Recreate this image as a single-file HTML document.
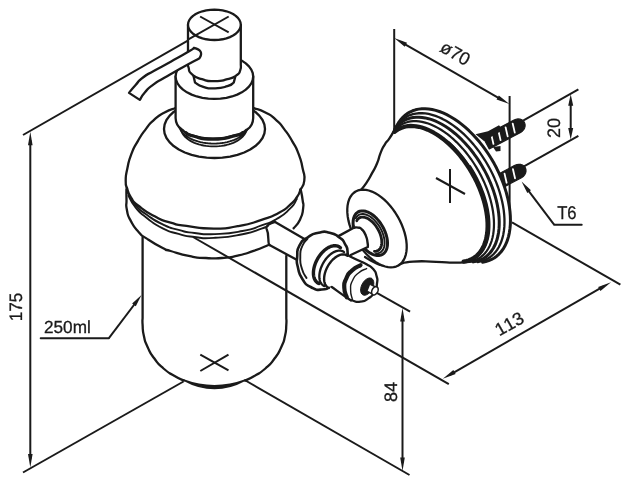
<!DOCTYPE html>
<html><head><meta charset="utf-8"><title>Soap dispenser drawing</title>
<style>html,body{margin:0;padding:0;background:#fff;}svg{display:block;filter:grayscale(1) blur(0.3px);text-rendering:geometricPrecision;font-variant-ligatures:none;font-kerning:none;font-feature-settings:'liga' 0,'calt' 0,'kern' 0;font-family:"Liberation Sans",sans-serif;}</style></head>
<body>
<svg width="629" height="484" viewBox="0 0 629 484" font-family="Liberation Sans, sans-serif" fill="#1a1a1a">
<line x1="23.00" y1="135.00" x2="190.00" y2="39.40" stroke="#1a1a1a" stroke-width="2.0" stroke-linecap="butt"/>
<line x1="23.00" y1="472.50" x2="183.50" y2="381.50" stroke="#1a1a1a" stroke-width="2.0" stroke-linecap="butt"/>
<line x1="245.50" y1="380.50" x2="409.50" y2="475.00" stroke="#1a1a1a" stroke-width="2.0" stroke-linecap="butt"/>
<line x1="30.30" y1="139.90" x2="30.30" y2="459.30" stroke="#1a1a1a" stroke-width="2.0" stroke-linecap="butt"/>
<path d="M30.30 467.40 L28.00 453.90 L32.60 453.90 Z" fill="#1a1a1a"/>
<path d="M30.30 131.80 L32.60 145.30 L28.00 145.30 Z" fill="#1a1a1a"/>
<text transform="translate(21.50 307.00) rotate(-90) scale(0.95 1)" x="0" y="0" font-size="18" text-anchor="middle" fill="#1a1a1a" stroke="#1a1a1a" stroke-width="0.3" font-family="Liberation Sans, sans-serif">175</text>
<line x1="402.50" y1="316.10" x2="402.50" y2="462.90" stroke="#1a1a1a" stroke-width="2.0" stroke-linecap="butt"/>
<path d="M402.50 471.00 L400.20 457.50 L404.80 457.50 Z" fill="#1a1a1a"/>
<path d="M402.50 308.00 L404.80 321.50 L400.20 321.50 Z" fill="#1a1a1a"/>
<text transform="translate(396.70 392.00) rotate(-90)" x="0" y="0" font-size="18" text-anchor="middle" fill="#1a1a1a" stroke="#1a1a1a" stroke-width="0.3" font-family="Liberation Sans, sans-serif">84</text>
<line x1="376.40" y1="292.70" x2="410.10" y2="311.60" stroke="#1a1a1a" stroke-width="2.0" stroke-linecap="butt"/>
<line x1="193.00" y1="237.00" x2="448.80" y2="384.10" stroke="#1a1a1a" stroke-width="2.0" stroke-linecap="butt"/>
<line x1="512.00" y1="222.40" x2="620.40" y2="284.70" stroke="#1a1a1a" stroke-width="2.0" stroke-linecap="butt"/>
<line x1="449.82" y1="374.77" x2="603.98" y2="286.23" stroke="#1a1a1a" stroke-width="2.0" stroke-linecap="butt"/>
<path d="M611.00 282.20 L600.44 290.92 L598.15 286.93 Z" fill="#1a1a1a"/>
<path d="M442.80 378.80 L453.36 370.08 L455.65 374.07 Z" fill="#1a1a1a"/>
<text transform="translate(512.30 329.20) rotate(-29.6)" x="0" y="0" font-size="18" text-anchor="middle" fill="#1a1a1a" stroke="#1a1a1a" stroke-width="0.3" font-family="Liberation Sans, sans-serif">113</text>
<line x1="394.20" y1="29.00" x2="394.20" y2="130.00" stroke="#1a1a1a" stroke-width="2.0" stroke-linecap="butt"/>
<line x1="401.23" y1="42.03" x2="502.37" y2="100.07" stroke="#1a1a1a" stroke-width="2.0" stroke-linecap="butt"/>
<path d="M509.40 104.10 L496.55 99.38 L498.84 95.39 Z" fill="#1a1a1a"/>
<path d="M394.20 38.00 L407.05 42.72 L404.76 46.71 Z" fill="#1a1a1a"/>
<text transform="translate(452.30 58.50) rotate(29.8)" x="0" y="0" font-size="18" text-anchor="middle" fill="#1a1a1a" stroke="#1a1a1a" stroke-width="0.3" font-family="Liberation Sans, sans-serif">ø70</text>
<line x1="523.10" y1="120.60" x2="578.40" y2="89.40" stroke="#1a1a1a" stroke-width="2.0" stroke-linecap="butt"/>
<line x1="523.10" y1="166.90" x2="578.40" y2="135.90" stroke="#1a1a1a" stroke-width="2.0" stroke-linecap="butt"/>
<line x1="570.70" y1="101.20" x2="570.70" y2="132.70" stroke="#1a1a1a" stroke-width="2.0" stroke-linecap="butt"/>
<path d="M570.70 139.60 L568.20 128.10 L573.20 128.10 Z" fill="#1a1a1a"/>
<path d="M570.70 94.30 L573.20 105.80 L568.20 105.80 Z" fill="#1a1a1a"/>
<text transform="translate(559.60 128.00) rotate(-90)" x="0" y="0" font-size="18" text-anchor="middle" fill="#1a1a1a" stroke="#1a1a1a" stroke-width="0.3" font-family="Liberation Sans, sans-serif">20</text>
<path d="M554.1 224.7 L581.7 224.7" fill="none" stroke="#1a1a1a" stroke-width="2.0" stroke-linecap="round" stroke-linejoin="round" />
<line x1="554.10" y1="224.70" x2="526.12" y2="187.59" stroke="#1a1a1a" stroke-width="2.0" stroke-linecap="butt"/>
<path d="M521.60 181.60 L530.96 190.20 L527.29 192.97 Z" fill="#1a1a1a"/>
<text transform="translate(566.90 219.30) scale(0.9 1)" x="0" y="0" font-size="18.5" text-anchor="middle" fill="#1a1a1a" stroke="#1a1a1a" stroke-width="0.3" font-family="Liberation Sans, sans-serif">T6</text>
<path d="M40.7 338.2 L108.9 338.2" fill="none" stroke="#1a1a1a" stroke-width="2.0" stroke-linecap="round" stroke-linejoin="round" />
<line x1="108.90" y1="338.20" x2="136.98" y2="300.99" stroke="#1a1a1a" stroke-width="2.0" stroke-linecap="butt"/>
<path d="M141.50 295.00 L135.81 306.36 L132.13 303.59 Z" fill="#1a1a1a"/>
<text transform="translate(67.40 332.80) scale(0.98 1)" x="0" y="0" font-size="17.5" text-anchor="middle" fill="#1a1a1a" stroke="#1a1a1a" stroke-width="0.3" font-family="Liberation Sans, sans-serif">250ml</text>
<path d="M142.6 237.5 L142.6 318 L142.60 318.00 C142.60 320.30 142.17 318.90 142.60 324.90 C143.03 330.90 142.20 328.57 143.90 336.00 C145.60 343.43 144.27 339.77 147.70 347.20 C151.13 354.63 148.93 351.20 154.20 358.30 C159.47 365.40 156.70 362.60 163.50 368.50 C170.30 374.40 167.80 371.97 174.60 376.00 C181.40 380.03 180.80 379.07 183.90 380.60" fill="none" stroke="#1a1a1a" stroke-width="2.3" stroke-linecap="round" stroke-linejoin="round" />
<path d="M286.3 256 L286.3 318 L286.30 318.00 C286.30 320.30 286.73 318.90 286.30 324.90 C285.87 330.90 286.70 328.57 285.00 336.00 C283.30 343.43 284.63 339.77 281.20 347.20 C277.77 354.63 279.97 351.20 274.70 358.30 C269.43 365.40 272.20 362.60 265.40 368.50 C258.60 374.40 261.10 371.97 254.30 376.00 C247.50 380.03 248.10 379.07 245.00 380.60" fill="none" stroke="#1a1a1a" stroke-width="2.3" stroke-linecap="round" stroke-linejoin="round" />
<path d="M183.5 380 Q214.4 391.5 245.4 380 Q214.4 397 183.5 380Z" fill="#1a1a1a" stroke="#1a1a1a" stroke-width="1.6" stroke-linejoin="round"/>
<line x1="200.30" y1="354.60" x2="228.50" y2="370.40" stroke="#1a1a1a" stroke-width="2.0" stroke-linecap="butt"/>
<line x1="200.30" y1="371.00" x2="228.50" y2="354.60" stroke="#1a1a1a" stroke-width="2.0" stroke-linecap="butt"/>
<path d="M126.40 189.30 C126.43 192.87 126.33 193.10 126.50 200.00 C126.67 206.90 125.43 202.97 126.90 210.00 C128.37 217.03 126.93 213.70 130.90 221.10 C134.87 228.50 133.50 226.37 138.80 232.20 C144.10 238.03 138.83 233.30 146.80 238.60 C154.77 243.90 154.77 243.97 162.70 248.10 C170.63 252.23 161.50 248.30 170.60 251.00 C179.70 253.70 178.23 253.87 190.00 256.20 C201.77 258.53 195.30 257.40 205.90 258.00 C216.50 258.60 211.20 258.80 221.80 258.00 C232.40 257.20 227.10 257.97 237.70 255.60 C248.30 253.23 243.53 254.33 253.60 250.90 C263.67 247.47 263.13 247.17 267.90 245.30" fill="none" stroke="#1a1a1a" stroke-width="2.3" stroke-linecap="round" stroke-linejoin="round" />
<path d="M127.70 192.50 C130.37 196.73 129.33 197.80 135.70 205.20 C142.07 212.60 137.80 208.33 146.80 214.70 C155.80 221.07 152.10 219.23 162.70 224.30 C173.30 229.37 168.00 227.00 178.60 229.90 C189.20 232.80 182.37 231.60 194.50 233.00 C206.63 234.40 199.00 234.77 215.00 234.10 C231.00 233.43 227.00 233.90 242.50 231.00 C258.00 228.10 250.13 229.40 261.50 225.40 C272.87 221.40 267.10 224.57 276.60 219.00 C286.10 213.43 283.27 215.37 290.00 208.70 C296.73 202.03 294.53 202.23 296.80 199.00" fill="none" stroke="#1a1a1a" stroke-width="1.9" stroke-linecap="round" stroke-linejoin="round" />
<path d="M128.50 195.70 C130.90 199.67 129.60 200.20 135.70 207.60 C141.80 215.00 137.80 211.00 146.80 217.90 C155.80 224.80 152.10 223.00 162.70 228.30 C173.30 233.60 168.00 230.90 178.60 233.80 C189.20 236.70 182.37 235.67 194.50 237.00 C206.63 238.33 199.00 238.73 215.00 237.80 C231.00 236.87 227.00 237.27 242.50 234.20 C258.00 231.13 253.03 231.27 261.50 228.60 C269.97 225.93 265.77 227.00 267.90 226.20" fill="none" stroke="#1a1a1a" stroke-width="1.9" stroke-linecap="round" stroke-linejoin="round" />
<path d="M300.70 189.50 C301.33 193.00 301.80 193.63 302.60 200.00 C303.40 206.37 303.97 202.03 303.10 208.60 C302.23 215.17 303.17 213.13 300.00 219.70 C296.83 226.27 295.73 225.43 293.60 228.30" fill="none" stroke="#1a1a1a" stroke-width="2.3" stroke-linecap="round" stroke-linejoin="round" />
<path d="M126.90 188.50 C126.50 185.87 125.53 187.37 125.70 180.60 C125.87 173.83 125.47 177.17 127.40 168.20 C129.33 159.23 128.07 162.67 131.50 153.70 C134.93 144.73 132.87 149.57 137.70 141.30 C142.53 133.03 140.47 136.13 146.00 128.90 C151.53 121.67 148.10 125.10 154.30 119.60 C160.50 114.10 157.73 116.17 164.60 112.40 C171.47 108.63 171.47 109.67 174.90 108.30" fill="none" stroke="#1a1a1a" stroke-width="2.3" stroke-linecap="round" stroke-linejoin="round" />
<path d="M300.50 189.50 C301.77 186.53 303.60 187.70 304.30 180.60 C305.00 173.50 304.53 177.17 302.60 168.20 C300.67 159.23 301.93 162.67 298.50 153.70 C295.07 144.73 297.13 149.57 292.30 141.30 C287.47 133.03 289.53 136.13 284.00 128.90 C278.47 121.67 281.90 125.10 275.70 119.60 C269.50 114.10 272.47 116.17 265.40 112.40 C258.33 108.63 258.13 109.67 254.50 108.30" fill="none" stroke="#1a1a1a" stroke-width="2.3" stroke-linecap="round" stroke-linejoin="round" />
<path d="M126.90 187.70 C128.23 190.90 126.93 191.20 130.90 197.30 C134.87 203.40 130.87 199.67 138.80 206.00 C146.73 212.33 144.10 210.73 154.70 216.30 C165.30 221.87 160.00 219.50 170.60 222.70 C181.20 225.90 172.10 223.93 186.50 225.90 C200.90 227.87 196.73 228.50 213.80 228.60 C230.87 228.70 221.80 229.10 237.70 226.20 C253.60 223.30 247.73 224.40 261.50 219.90 C275.27 215.40 269.50 217.73 279.00 212.70 C288.50 207.67 284.00 210.03 290.00 204.80 C296.00 199.57 293.50 202.10 297.00 197.00 C300.50 191.90 299.33 192.00 300.50 189.50" fill="none" stroke="#1a1a1a" stroke-width="2.3" stroke-linecap="round" stroke-linejoin="round" />
<path d="M265.00 129.00 L264.38 133.54 L262.53 137.96 L259.50 142.17 L255.36 146.05 L250.21 149.51 L244.18 152.46 L237.43 154.84 L230.11 156.58 L222.40 157.64 L214.50 158.00 L206.60 157.64 L198.89 156.58 L191.57 154.84 L184.82 152.46 L178.79 149.51 L173.64 146.05 L169.50 142.17 L166.47 137.96 L164.62 133.54 L164.00 129.00 L164.62 124.46 L166.47 120.04 L169.50 115.83 L173.64 111.95 L178.79 108.49 L184.82 105.54 L191.57 103.16 L198.89 101.42 L206.60 100.36 L214.50 100.00 L222.40 100.36 L230.11 101.42 L237.43 103.16 L244.18 105.54 L250.21 108.49 L255.36 111.95 L259.50 115.83 L262.53 120.04 L264.38 124.46 L265.00 129.00" fill="none" stroke="#1a1a1a" stroke-width="2.3" stroke-linecap="round" stroke-linejoin="round" />
<path d="M248.80 123.60 L248.69 125.17 L248.37 126.73 L247.83 128.27 L247.09 129.78 L246.14 131.25 L244.99 132.68 L243.64 134.05 L242.12 135.36 L240.41 136.59 L238.55 137.74 L236.53 138.81 L234.37 139.78 L232.09 140.65 L229.69 141.42 L227.19 142.08 L224.62 142.62 L221.97 143.05 L219.28 143.35 L216.55 143.54 L213.80 143.60 L211.05 143.54 L208.32 143.35 L205.63 143.05 L202.98 142.62 L200.41 142.08 L197.91 141.42 L195.51 140.65 L193.23 139.78 L191.07 138.81 L189.05 137.74 L187.19 136.59 L185.48 135.36 L183.96 134.05 L182.61 132.68 L181.46 131.25 L180.51 129.78 L179.77 128.27 L179.23 126.73 L178.91 125.17 L178.80 123.60" fill="none" stroke="#1a1a1a" stroke-width="1.9" stroke-linecap="round" stroke-linejoin="round" />
<path d="M246.80 127.40 L246.70 128.89 L246.39 130.37 L245.89 131.84 L245.18 133.27 L244.29 134.67 L243.20 136.03 L241.94 137.33 L240.50 138.57 L238.89 139.74 L237.13 140.84 L235.23 141.85 L233.20 142.77 L231.04 143.60 L228.78 144.33 L226.43 144.95 L224.00 145.47 L221.50 145.88 L218.96 146.17 L216.39 146.34 L213.80 146.40 L211.21 146.34 L208.64 146.17 L206.10 145.88 L203.60 145.47 L201.17 144.95 L198.82 144.33 L196.56 143.60 L194.40 142.77 L192.37 141.85 L190.47 140.84 L188.71 139.74 L187.10 138.57 L185.66 137.33 L184.40 136.03 L183.31 134.67 L182.42 133.27 L181.71 131.84 L181.21 130.37 L180.90 128.89 L180.80 127.40" fill="none" stroke="#1a1a1a" stroke-width="1.9" stroke-linecap="round" stroke-linejoin="round" />
<path d="M175.6 76.5 L175.6 118 C175.8 124 178 127 181.6 129.3 L181.60 129.30 C185.43 131.40 182.50 132.50 193.10 135.60 C203.70 138.70 199.40 138.73 213.40 138.60 C227.40 138.47 223.77 138.30 235.10 135.20 C246.43 132.10 243.30 131.27 247.40 129.30 C251 127 253 124 253.2 118 L253.2 76.5" fill="#fff" stroke="#1a1a1a" stroke-width="2.3" stroke-linecap="round" stroke-linejoin="round" />
<path d="M253.20 76.50 L252.72 80.00 L251.30 83.42 L248.97 86.67 L245.79 89.67 L241.84 92.34 L237.21 94.62 L232.01 96.46 L226.39 97.80 L220.47 98.62 L214.40 98.90 L208.33 98.62 L202.41 97.80 L196.79 96.46 L191.59 94.62 L186.96 92.34 L183.01 89.67 L179.83 86.67 L177.50 83.42 L176.08 80.00 L175.60 76.50 L176.08 73.00 L177.50 69.58 L179.83 66.33 L183.01 63.33 L186.96 60.66 L191.59 58.38 L196.79 56.54 L202.41 55.20 L208.33 54.38 L214.40 54.10 L220.47 54.38 L226.39 55.20 L232.01 56.54 L237.21 58.38 L241.84 60.66 L245.79 63.33 L248.97 66.33 L251.30 69.58 L252.72 73.00 L253.20 76.50" fill="#fff" stroke="#1a1a1a" stroke-width="2.3" stroke-linecap="round" stroke-linejoin="round" />
<path d="M186.00 132.60 C188.37 133.73 183.97 133.83 193.10 136.00 C202.23 138.17 199.40 139.20 213.40 139.10 C227.40 139.00 225.23 137.87 235.10 135.70 C244.97 133.53 240.37 133.63 243.00 132.60" fill="none" stroke="#1a1a1a" stroke-width="3.2" stroke-linecap="round" stroke-linejoin="round" />
<path d="M193.1 74 L195 82.4 L195.00 82.40 C197.77 83.87 196.73 84.83 203.30 86.80 C209.87 88.77 206.67 88.50 214.70 88.30 C222.73 88.10 221.03 88.17 227.40 86.20 C233.77 84.23 231.67 83.67 233.80 82.40 L236 74" fill="#fff" stroke="#1a1a1a" stroke-width="2.3" stroke-linecap="round" stroke-linejoin="round" />
<path d="M188 24.8 L188 64 L188.00 64.00 C188.20 65.23 187.33 64.33 188.60 67.70 C189.87 71.07 187.33 70.27 191.80 74.10 C196.27 77.93 194.37 76.87 202.00 79.20 C209.63 81.53 206.23 81.10 214.70 81.10 C223.17 81.10 220.20 81.10 227.40 79.20 C234.60 77.30 232.03 78.37 236.30 75.40 C240.57 72.43 238.70 74.10 240.20 70.30 C241.70 66.50 240.60 66.10 240.80 64.00 L240.8 24.8" fill="#fff" stroke="#1a1a1a" stroke-width="2.3" stroke-linecap="round" stroke-linejoin="round" />
<path d="M240.80 24.80 L240.47 27.18 L239.51 29.50 L237.92 31.70 L235.76 33.73 L233.07 35.55 L229.92 37.10 L226.39 38.34 L222.56 39.26 L218.53 39.81 L214.40 40.00 L210.27 39.81 L206.24 39.26 L202.41 38.34 L198.88 37.10 L195.73 35.55 L193.04 33.73 L190.88 31.70 L189.29 29.50 L188.33 27.18 L188.00 24.80 L188.33 22.42 L189.29 20.10 L190.88 17.90 L193.04 15.87 L195.73 14.05 L198.88 12.50 L202.41 11.26 L206.24 10.34 L210.27 9.79 L214.40 9.60 L218.53 9.79 L222.56 10.34 L226.39 11.26 L229.92 12.50 L233.07 14.05 L235.76 15.87 L237.92 17.90 L239.51 20.10 L240.47 22.42 L240.80 24.80" fill="#fff" stroke="#1a1a1a" stroke-width="2.3" stroke-linecap="round" stroke-linejoin="round" />
<line x1="200.10" y1="16.50" x2="228.70" y2="32.40" stroke="#1a1a1a" stroke-width="2.0" stroke-linecap="butt"/>
<line x1="188.40" y1="39.40" x2="228.70" y2="16.50" stroke="#1a1a1a" stroke-width="2.0" stroke-linecap="butt"/>
<path d="M194.00 47.80 C192.37 48.97 196.70 46.73 189.10 51.30 C181.50 55.87 182.70 55.10 171.20 61.50 C159.70 67.90 164.00 65.17 154.60 70.50 C145.20 75.83 149.40 72.60 143.00 77.50 C136.60 82.40 140.07 80.07 135.40 85.20 C130.73 90.33 131.13 90.33 129.00 92.90 L139.8 99.9 L139.80 99.90 C141.53 97.37 140.50 97.40 145.00 92.30 C149.50 87.20 146.70 89.53 153.30 84.60 C159.90 79.67 155.40 83.07 164.80 77.50 C174.20 71.93 169.93 74.33 181.50 67.90 C193.07 61.47 193.50 61.43 199.50 58.20 Q204.5 50.5 194 47.8Z" fill="#fff" stroke="#1a1a1a" stroke-width="2.3" stroke-linecap="round" stroke-linejoin="round" />
<line x1="509.60" y1="96.00" x2="509.60" y2="222.00" stroke="#1a1a1a" stroke-width="2.0" stroke-linecap="butt"/>
<path d="M489.28 148.98 L520.58 132.38 L522.31 131.20 L523.70 129.67 L524.65 127.91 L525.10 126.03 L525.02 124.16 L524.41 122.43 L523.32 120.96 L521.82 119.84 L520.01 119.16 L518.02 118.96 L515.97 119.25 L514.02 120.02 L482.72 136.62Z" fill="#1a1a1a" stroke="#1a1a1a" stroke-width="1.2" stroke-linejoin="round"/>
<path d="M493.45 143.94 L491.35 134.87" stroke="#fff" stroke-width="1.8" fill="none" stroke-linecap="round"/>
<path d="M500.56 140.17 L498.47 131.09" stroke="#fff" stroke-width="1.8" fill="none" stroke-linecap="round"/>
<path d="M507.68 136.40 L505.58 127.32" stroke="#fff" stroke-width="1.8" fill="none" stroke-linecap="round"/>
<path d="M514.79 132.62 L512.69 123.55" stroke="#fff" stroke-width="1.8" fill="none" stroke-linecap="round"/>
<path d="M475.5 134.2 L488 131.2 L499 125.2 L503 130 L484 141 Z" fill="#1a1a1a"/>
<path d="M493 147 L500.5 146 L500.5 151 L496 151.5 Z" fill="#1a1a1a"/>
<path d="M501.28 188.39 L521.48 177.69 L523.21 176.50 L524.59 174.97 L525.55 173.21 L526.00 171.33 L525.92 169.46 L525.31 167.73 L524.22 166.26 L522.72 165.14 L520.91 164.46 L518.92 164.26 L516.88 164.55 L514.92 165.31 L494.72 176.01Z" fill="#1a1a1a" stroke="#1a1a1a" stroke-width="1.2" stroke-linejoin="round"/>
<path d="M506.62 182.73 L504.53 173.65" stroke="#fff" stroke-width="1.8" fill="none" stroke-linecap="round"/>
<path d="M515.04 178.27 L512.95 169.19" stroke="#fff" stroke-width="1.8" fill="none" stroke-linecap="round"/>
<path d="M482.64 262.18 L485.75 261.57 L488.73 260.67 L491.55 259.46 L494.21 257.96 L496.70 256.17 L499.01 254.11 L501.12 251.76 L503.04 249.16 L504.75 246.30 L506.24 243.20 L507.52 239.87 L508.57 236.32 L509.39 232.57 L509.97 228.64 L510.33 224.53 L510.44 220.27 L510.32 215.87 L509.97 211.35 L509.38 206.73 L508.55 202.02 L507.50 197.25 L506.22 192.43 L504.72 187.58 L503.01 182.73 L501.09 177.89 L498.97 173.07 L496.66 168.31 L494.17 163.62 L491.51 159.01 L488.68 154.51 L485.71 150.14 L482.59 145.90 L479.36 141.83 L476.00 137.93 L472.55 134.21 L469.01 130.71 L465.40 127.42 L461.74 124.36 L458.03 121.55 L454.29 118.99 L450.54 116.70 L446.79 114.68 L443.06 112.94 L439.36 111.49 L435.71 110.34 L432.11 109.49 L428.59 108.94 L425.17 108.70 L421.84 108.76 L418.63 109.13 L415.55 109.81 L412.61 110.78 L409.82 112.06 L407.20 113.62 L404.75 115.48 L402.49 117.61 L400.42 120.01 L398.55 122.68 L396.89 125.59 L395.45 128.75 L394.50 129.90 L389.60 138.20 L384.60 144.80 L380.50 153.10 L377.20 163.00 L372.20 172.90 L366.40 182.80 L359.80 191.10 L353.20 197.70 L345.9 215 L363 256 L365.00 257.00 L374.50 262.40 L384.00 265.50 L395.30 264.80 L413.00 261.60 L436.00 261.90 L456.30 262.70 L473.00 261.40Z" fill="#fff" stroke="#1a1a1a" stroke-width="0.01" stroke-linecap="round" stroke-linejoin="round" />
<path d="M482.64 262.18 L485.75 261.57 L488.73 260.67 L491.55 259.46 L494.21 257.96 L496.70 256.17 L499.01 254.11 L501.12 251.76 L503.04 249.16 L504.75 246.30 L506.24 243.20 L507.52 239.87 L508.57 236.32 L509.39 232.57 L509.97 228.64 L510.33 224.53 L510.44 220.27 L510.32 215.87 L509.97 211.35 L509.38 206.73 L508.55 202.02 L507.50 197.25 L506.22 192.43 L504.72 187.58 L503.01 182.73 L501.09 177.89 L498.97 173.07 L496.66 168.31 L494.17 163.62 L491.51 159.01 L488.68 154.51 L485.71 150.14 L482.59 145.90 L479.36 141.83 L476.00 137.93 L472.55 134.21 L469.01 130.71 L465.40 127.42 L461.74 124.36 L458.03 121.55 L454.29 118.99 L450.54 116.70 L446.79 114.68 L443.06 112.94 L439.36 111.49 L435.71 110.34 L432.11 109.49 L428.59 108.94 L425.17 108.70 L421.84 108.76 L418.63 109.13 L415.55 109.81 L412.61 110.78 L409.82 112.06 L407.20 113.62 L404.75 115.48 L402.49 117.61 L400.42 120.01 L398.55 122.68 L396.89 125.59 L395.45 128.75" fill="none" stroke="#1a1a1a" stroke-width="3.0" stroke-linecap="round" stroke-linejoin="round" />
<path d="M477.71 262.02 L480.65 261.46 L483.46 260.61 L486.14 259.49 L488.67 258.09 L491.03 256.43 L493.23 254.50 L495.26 252.32 L497.09 249.90 L498.74 247.23 L500.19 244.34 L501.44 241.24 L502.48 237.93 L503.31 234.42 L503.92 230.74 L504.32 226.90 L504.49 222.91 L504.45 218.78 L504.19 214.54 L503.71 210.19 L503.01 205.76 L502.10 201.26 L500.98 196.70 L499.66 192.12 L498.13 187.51 L496.41 182.91 L494.50 178.33 L492.41 173.78 L490.14 169.28 L487.71 164.86 L485.13 160.52 L482.40 156.29 L479.53 152.18 L476.54 148.20 L473.44 144.37 L470.24 140.71 L466.95 137.23 L463.58 133.94 L460.15 130.85 L456.66 127.99 L453.15 125.35 L449.60 122.95 L446.05 120.79 L442.50 118.90 L438.97 117.26 L435.47 115.89 L432.01 114.80 L428.61 113.98 L425.28 113.45 L422.03 113.20 L418.88 113.24 L415.83 113.55 L412.91 114.15 L410.11 115.04 L407.45 116.20 L404.95 117.63 L402.60 119.33 L400.43 121.29 L398.43 123.50 L396.61 125.96 L394.99 128.66" fill="none" stroke="#1a1a1a" stroke-width="2.3" stroke-linecap="round" stroke-linejoin="round" />
<path d="M473.34 261.88 L476.14 261.35 L478.82 260.56 L481.37 259.51 L483.77 258.20 L486.04 256.64 L488.14 254.84 L490.08 252.79 L491.85 250.52 L493.44 248.02 L494.85 245.31 L496.07 242.39 L497.10 239.28 L497.93 235.99 L498.56 232.53 L498.99 228.91 L499.21 225.15 L499.23 221.26 L499.05 217.25 L498.66 213.14 L498.07 208.95 L497.28 204.68 L496.29 200.36 L495.10 196.00 L493.73 191.62 L492.17 187.23 L490.44 182.85 L488.53 178.49 L486.45 174.17 L484.22 169.91 L481.84 165.73 L479.32 161.63 L476.66 157.63 L473.89 153.76 L471.00 150.01 L468.01 146.41 L464.93 142.97 L461.78 139.69 L458.55 136.61 L455.27 133.71 L451.95 131.02 L448.59 128.55 L445.22 126.30 L441.83 124.28 L438.46 122.51 L435.10 120.97 L431.77 119.69 L428.49 118.67 L425.26 117.91 L422.10 117.41 L419.01 117.17 L416.02 117.21 L413.12 117.50 L410.34 118.06 L407.68 118.89 L405.14 119.97 L402.75 121.31 L400.51 122.90 L398.42 124.73 L396.50 126.80 L394.75 129.11" fill="none" stroke="#1a1a1a" stroke-width="3.0" stroke-linecap="round" stroke-linejoin="round" />
<path d="M468.98 261.74 L471.63 261.25 L474.18 260.51 L476.60 259.52 L478.89 258.30 L481.05 256.84 L483.06 255.15 L484.92 253.24 L486.62 251.11 L488.16 248.77 L489.52 246.23 L490.71 243.50 L491.73 240.59 L492.55 237.50 L493.20 234.25 L493.65 230.85 L493.92 227.31 L493.99 223.65 L493.88 219.87 L493.57 215.99 L493.08 212.03 L492.39 207.99 L491.53 203.90 L490.48 199.77 L489.25 195.60 L487.85 191.42 L486.28 187.24 L484.54 183.08 L482.65 178.95 L480.61 174.86 L478.42 170.83 L476.10 166.87 L473.65 163.00 L471.08 159.23 L468.40 155.58 L465.62 152.05 L462.75 148.66 L459.80 145.42 L456.78 142.35 L453.70 139.44 L450.57 136.72 L447.40 134.20 L444.21 131.88 L441.00 129.76 L437.78 127.87 L434.58 126.20 L431.39 124.75 L428.23 123.55 L425.11 122.58 L422.05 121.86 L419.04 121.38 L416.12 121.15 L413.27 121.17 L410.52 121.44 L407.87 121.95 L405.33 122.71 L402.92 123.71 L400.63 124.95 L398.48 126.42 L396.48 128.12 L394.63 130.05" fill="none" stroke="#1a1a1a" stroke-width="2.2" stroke-linecap="round" stroke-linejoin="round" />
<path d="M463.66 261.57 L466.15 261.12 L468.54 260.44 L470.81 259.53 L472.97 258.41 L475.00 257.07 L476.90 255.51 L478.66 253.76 L480.28 251.80 L481.74 249.64 L483.05 247.30 L484.20 244.79 L485.19 242.10 L486.02 239.25 L486.67 236.24 L487.15 233.10 L487.46 229.83 L487.59 226.43 L487.55 222.92 L487.34 219.32 L486.95 215.64 L486.39 211.88 L485.66 208.05 L484.76 204.19 L483.70 200.29 L482.47 196.36 L481.09 192.43 L479.55 188.50 L477.87 184.59 L476.04 180.72 L474.08 176.88 L471.99 173.11 L469.78 169.40 L467.45 165.78 L465.02 162.24 L462.49 158.82 L459.86 155.51 L457.16 152.34 L454.38 149.30 L451.54 146.41 L448.64 143.68 L445.70 141.11 L442.73 138.73 L439.73 136.53 L436.72 134.52 L433.71 132.71 L430.70 131.10 L427.71 129.71 L424.74 128.53 L421.81 127.57 L418.92 126.83 L416.09 126.32 L413.33 126.03 L410.64 125.97 L408.03 126.14 L405.51 126.54 L403.10 127.16 L400.79 128.00 L398.60 129.07 L396.54 130.35 L394.60 131.84" fill="none" stroke="#1a1a1a" stroke-width="4.2" stroke-linecap="round" stroke-linejoin="round" />
<path d="M467.27 261.21 L469.19 260.70 L471.05 260.05 L472.84 259.25 L474.54 258.32 L476.17 257.26 L477.72 256.06 L479.18 254.73 L480.55 253.27 L481.82 251.68 L483.01 249.97 L484.09 248.14 L485.08 246.20 L485.96 244.14 L486.74 241.98 L487.42 239.72 L487.99 237.36 L488.45 234.91 L488.80 232.37 L489.04 229.74 L489.17 227.05 L489.19 224.28 L489.10 221.44 L488.90 218.55 L488.60 215.60 L488.18 212.61 L487.65 209.58 L487.02 206.51 L486.28 203.41 L485.43 200.30 L484.49 197.17 L483.44 194.03 L482.30 190.89 L481.06 187.75 L479.72 184.63 L478.30 181.52 L476.78 178.44 L475.19 175.39 L473.51 172.38 L471.75 169.41 L469.93 166.49" fill="none" stroke="#1a1a1a" stroke-width="2.6" stroke-linecap="round" stroke-linejoin="round" />
<path d="M465.19 261.48 L467.65 260.96 L470.00 260.21 L472.25 259.24 L474.37 258.05 L476.37 256.65 L478.23 255.04 L479.96 253.23 L481.54 251.21 L482.97 249.01 L484.24 246.62 L485.35 244.06 L486.30 241.33 L487.09 238.44 L487.70 235.40 L488.14 232.23 L488.41 228.92 L488.51 225.50 L488.44 221.97 L488.19 218.35 L487.76 214.65 L487.17 210.87 L486.41 207.04 L485.48 203.16 L484.38 199.26 L483.13 195.33 L481.72 191.40 L480.16 187.47 L478.46 183.57 L476.61 179.69 L474.63 175.87 L472.52 172.10 L470.29 168.40 L467.95 164.79 L465.50 161.27 L462.95 157.86 L460.32 154.57 L457.60 151.41 L454.81 148.39 L451.97 145.51 L449.06 142.80" fill="none" stroke="#1a1a1a" stroke-width="2.6" stroke-linecap="round" stroke-linejoin="round" />
<path d="M394.50 129.90 C392.87 132.67 392.90 133.23 389.60 138.20 C386.30 143.17 387.63 139.83 384.60 144.80 C381.57 149.77 382.97 147.03 380.50 153.10 C378.03 159.17 379.97 156.40 377.20 163.00 C374.43 169.60 375.80 166.30 372.20 172.90 C368.60 179.50 370.53 176.73 366.40 182.80 C362.27 188.87 364.20 186.13 359.80 191.10 C355.40 196.07 355.40 195.50 353.20 197.70" fill="none" stroke="#1a1a1a" stroke-width="2.3" stroke-linecap="round" stroke-linejoin="round" />
<path d="M365.00 257.00 C368.17 258.80 368.17 259.57 374.50 262.40 C380.83 265.23 377.07 264.70 384.00 265.50 C390.93 266.30 385.63 266.10 395.30 264.80 C404.97 263.50 399.43 262.57 413.00 261.60 C426.57 260.63 421.57 261.53 436.00 261.90 C450.43 262.27 443.97 262.87 456.30 262.70 C468.63 262.53 467.43 261.83 473.00 261.40" fill="none" stroke="#1a1a1a" stroke-width="2.3" stroke-linecap="round" stroke-linejoin="round" />
<path d="M398.35 265.48 L396.07 266.53 L393.58 267.16 L390.91 267.36 L388.09 267.14 L385.14 266.50 L382.11 265.44 L379.02 263.98 L375.90 262.12 L372.80 259.90 L369.75 257.34 L366.78 254.46 L363.91 251.29 L361.19 247.88 L358.65 244.25 L356.30 240.45 L354.18 236.52 L352.32 232.50 L350.72 228.44 L349.41 224.38 L348.40 220.36 L347.71 216.43 L347.33 212.64 L347.28 209.02 L347.56 205.61 L348.16 202.45 L349.08 199.58 L350.30 197.02 L351.81 194.81 L353.60 192.97 L355.65 191.52 L357.93 190.47 L360.42 189.84 L363.09 189.64 L365.91 189.86 L368.86 190.50 L371.89 191.56 L374.98 193.02 L378.10 194.88 L381.20 197.10 L384.25 199.66 L387.22 202.54 L390.09 205.71 L392.81 209.12 L395.35 212.75 L397.70 216.55 L399.82 220.48 L401.68 224.50 L403.28 228.56 L404.59 232.62 L405.60 236.64 L406.29 240.57 L406.67 244.36 L406.72 247.98 L406.44 251.39 L405.84 254.55 L404.92 257.42 L403.70 259.98 L402.19 262.19 L400.40 264.03 L398.35 265.48" fill="#fff" stroke="#1a1a1a" stroke-width="2.3" stroke-linecap="round" stroke-linejoin="round" />
<line x1="450.00" y1="169.00" x2="450.00" y2="203.00" stroke="#1a1a1a" stroke-width="2.0" stroke-linecap="butt"/>
<line x1="436.00" y1="178.00" x2="465.00" y2="194.00" stroke="#1a1a1a" stroke-width="2.0" stroke-linecap="butt"/>
<path d="M382.55 254.42 L380.86 255.15 L378.99 255.51 L376.98 255.48 L374.85 255.07 L372.64 254.29 L370.39 253.15 L368.14 251.67 L365.93 249.87 L363.79 247.79 L361.76 245.45 L359.88 242.91 L358.18 240.20 L356.68 237.37 L355.42 234.47 L354.41 231.55 L353.68 228.65 L353.22 225.84 L353.06 223.15 L353.20 220.63 L353.63 218.32 L354.34 216.28 L355.33 214.52 L356.57 213.08 L358.05 211.98 L359.74 211.25 L361.61 210.89 L363.62 210.92 L365.75 211.32 L367.96 212.11 L370.21 213.25 L372.46 214.73 L374.68 216.53 L376.81 218.61 L378.84 220.95 L380.72 223.49 L382.42 226.20 L383.92 229.03 L385.18 231.93 L386.19 234.85 L386.93 237.75 L387.38 240.56 L387.54 243.25 L387.40 245.77 L386.97 248.07 L386.26 250.12 L385.27 251.88 L384.03 253.32 L382.55 254.42" fill="#fff" stroke="#1a1a1a" stroke-width="3.0" stroke-linecap="round" stroke-linejoin="round" />
<path d="M376.04 253.36 L377.10 253.35 L378.12 253.22 L379.09 252.96 L379.99 252.58 L380.82 252.07 L381.59 251.45 L382.27 250.71 L382.88 249.87 L383.40 248.92 L383.82 247.88 L384.16 246.74 L384.41 245.52 L384.56 244.23 L384.61 242.87 L384.56 241.45 L384.42 239.98 L384.19 238.47 L383.86 236.93 L383.44 235.37 L382.93 233.79 L382.33 232.22 L381.65 230.66 L380.89 229.11 L380.07 227.60 L379.17 226.12 L378.21 224.70 L377.20 223.33 L376.13 222.03 L375.03 220.80 L373.88 219.65 L372.72 218.60 L371.53 217.64 L370.32 216.78 L369.11 216.03 L367.91 215.40 L366.71 214.88 L365.54 214.48 L364.38 214.21 L363.26 214.05 L362.18 214.03 L361.15 214.13 L360.17 214.36 L359.25 214.71 L358.40 215.18 L357.61 215.77 L356.91 216.47 L356.28 217.29 L355.74 218.21" fill="none" stroke="#1a1a1a" stroke-width="1.9" stroke-linecap="round" stroke-linejoin="round" />
<path d="M374.42 251.30 L375.34 251.29 L376.22 251.18 L377.05 250.96 L377.83 250.63 L378.55 250.19 L379.21 249.66 L379.80 249.02 L380.31 248.29 L380.76 247.47 L381.12 246.57 L381.41 245.58 L381.62 244.53 L381.74 243.40 L381.78 242.22 L381.73 240.99 L381.61 239.71 L381.40 238.40 L381.11 237.06 L380.74 235.70 L380.29 234.34 L379.77 232.97 L379.17 231.61 L378.52 230.27 L377.79 228.95 L377.01 227.67 L376.18 226.42 L375.30 225.23 L374.37 224.10 L373.42 223.02 L372.43 222.03 L371.41 221.10 L370.38 220.27 L369.34 219.52 L368.29 218.86 L367.25 218.31 L366.22 217.85 L365.20 217.50 L364.20 217.26 L363.23 217.12 L362.30 217.10 L361.41 217.18 L360.57 217.37 L359.77 217.67 L359.04 218.08 L358.37 218.59 L357.76 219.20 L357.22 219.90 L356.76 220.70" fill="none" stroke="#1a1a1a" stroke-width="2.8" stroke-linecap="round" stroke-linejoin="round" />
<path d="M338 236.4 L353.8 227.7 L353.80 227.70 C355.20 227.67 355.33 227.07 358.00 227.60 C360.67 228.13 359.20 226.63 361.80 229.30 C364.40 231.97 363.87 231.03 365.80 235.60 C367.73 240.17 366.93 239.20 367.60 243.00 C368.27 246.80 367.73 245.67 367.80 247.00 L350.7 255 Z" fill="#fff" stroke="#1a1a1a" stroke-width="0.01" stroke-linecap="round" stroke-linejoin="round" />
<path d="M338 236.4 L353.8 227.7 L353.80 227.70 C355.20 227.67 355.33 227.07 358.00 227.60 C360.67 228.13 359.20 226.63 361.80 229.30 C364.40 231.97 363.87 231.03 365.80 235.60 C367.73 240.17 366.93 239.20 367.60 243.00 C368.27 246.80 367.73 245.67 367.80 247.00 L350.7 255" fill="none" stroke="#1a1a1a" stroke-width="2.4" stroke-linecap="round" stroke-linejoin="round" />
<path d="M275.1 221.9 L305.3 239.4 L295.8 259.3 L269.5 245 C267 242 270 236 266.4 228.3 Z" fill="#fff" stroke="#1a1a1a" stroke-width="0.01" stroke-linecap="round" stroke-linejoin="round" />
<path d="M275.1 221.9 L305.3 239.4" fill="none" stroke="#1a1a1a" stroke-width="2.3" stroke-linecap="round" stroke-linejoin="round" />
<path d="M269.5 245 L295.8 259.3" fill="none" stroke="#1a1a1a" stroke-width="2.3" stroke-linecap="round" stroke-linejoin="round" />
<path d="M275.1 221.9 C268 224 266 226 266.4 228.3 C270 236 267 242 269.5 245" fill="none" stroke="#1a1a1a" stroke-width="2.3" stroke-linecap="round" stroke-linejoin="round" />
<path d="M297.20 256.60 C297.70 249.17 296.07 251.77 299.50 245.40 C302.93 239.03 301.13 241.73 307.50 237.50 C313.87 233.27 311.20 234.30 318.60 232.70 C326.00 231.10 322.80 231.10 329.70 232.70 C336.60 234.30 334.23 233.80 339.30 237.50 C344.37 241.20 342.13 238.80 344.90 243.80 C347.67 248.80 347.23 246.43 347.60 252.50 C347.97 258.57 349.20 254.83 346.00 262.00 C342.80 269.17 343.00 266.33 338.00 274.00 C333.00 281.67 336.40 279.83 331.00 285.00 C325.60 290.17 328.57 288.83 321.80 289.50 C315.03 290.17 317.07 290.33 310.70 287.00 C304.33 283.67 306.93 285.93 302.70 279.50 C298.47 273.07 299.83 275.33 298.00 267.70 C296.17 260.07 296.70 264.03 297.20 256.60Z" fill="#fff" stroke="#1a1a1a" stroke-width="2.6" stroke-linecap="round" stroke-linejoin="round" />
<path d="M307.50 238.80 C305.77 241.20 304.70 239.93 302.30 246.00 C299.90 252.07 300.40 249.33 300.30 257.00 C300.20 264.67 299.93 262.00 302.00 269.00 C304.07 276.00 305.00 275.00 306.50 278.00" fill="none" stroke="#1a1a1a" stroke-width="1.9" stroke-linecap="round" stroke-linejoin="round" />
<path d="M337.70 246.20 C346.70 245.60 340.43 250.10 347.20 254.80 C353.97 259.50 351.57 257.13 358.00 260.30 C364.43 263.47 361.43 261.37 366.50 264.30 C371.57 267.23 369.87 265.27 373.20 269.10 C376.53 272.93 375.23 271.03 376.50 275.80 C377.77 280.57 377.67 278.07 377.00 283.40 C376.33 288.73 377.37 286.80 374.50 291.80 C371.63 296.80 373.10 295.10 368.40 298.40 C363.70 301.70 365.70 301.00 360.40 301.70 C355.10 302.40 356.73 301.67 352.50 300.50 C348.27 299.33 354.60 302.70 347.70 298.20 C340.80 293.70 341.23 291.87 331.80 287.00 C322.37 282.13 325.13 288.97 319.40 283.60 C313.67 278.23 314.33 279.90 314.60 270.90 C314.87 261.90 312.50 264.83 320.20 256.60 C327.90 248.37 328.70 246.80 337.70 246.20Z" fill="#fff" stroke="#1a1a1a" stroke-width="0.01" stroke-linecap="round" stroke-linejoin="round" />
<path d="M340.40 247.76 L339.58 247.09 L338.68 246.54 L337.71 246.12 L336.68 245.84 L335.58 245.69 L334.44 245.68 L333.25 245.81 L332.03 246.06 L330.78 246.46 L329.52 246.98 L328.25 247.63 L326.98 248.40 L325.73 249.29 L324.49 250.30 L323.28 251.40 L322.11 252.60 L320.98 253.89 L319.91 255.25 L318.90 256.68 L317.95 258.18 L317.08 259.72 L316.30 261.29 L315.59 262.89 L314.98 264.51 L314.47 266.13 L314.05 267.74 L313.74 269.33 L313.53 270.89 L313.43 272.40 L313.43 273.86 L313.55 275.26 L313.76 276.59 L314.09 277.83 L314.51 278.98 L315.03 280.04 L315.65 280.98 L316.36 281.81 L317.16 282.52 L318.03 283.11 L318.98 283.56" fill="#fff" stroke="#1a1a1a" stroke-width="3.4" stroke-linecap="round" stroke-linejoin="round" />
<path d="M344.09 252.11 L343.29 251.56 L342.43 251.14 L341.51 250.83 L340.53 250.64 L339.50 250.58 L338.43 250.64 L337.32 250.83 L336.19 251.13 L335.04 251.56 L333.88 252.10 L332.71 252.76 L331.55 253.53 L330.40 254.40 L329.27 255.36 L328.17 256.42 L327.11 257.56 L326.09 258.78 L325.12 260.06 L324.20 261.41 L323.35 262.80 L322.57 264.23 L321.87 265.70 L321.24 267.18 L320.69 268.67 L320.24 270.16 L319.87 271.64 L319.60 273.10 L319.42 274.53 L319.34 275.92 L319.35 277.26 L319.46 278.54 L319.67 279.75 L319.97 280.88 L320.36 281.93 L320.84 282.89 L321.41 283.75 L322.06 284.51 L322.79 285.15 L323.59 285.69 L324.46 286.10" fill="#fff" stroke="#1a1a1a" stroke-width="2.3" stroke-linecap="round" stroke-linejoin="round" />
<path d="M347.38 255.82 L346.64 255.32 L345.84 254.92 L344.98 254.63 L344.06 254.46 L343.10 254.41 L342.10 254.47 L341.07 254.65 L340.01 254.95 L338.93 255.36 L337.84 255.88 L336.74 256.50 L335.66 257.23 L334.58 258.05 L333.52 258.97 L332.48 259.97 L331.48 261.05 L330.52 262.20 L329.61 263.42 L328.75 264.68 L327.95 266.00 L327.21 267.35 L326.54 268.73 L325.95 270.13 L325.43 271.54 L324.99 272.94 L324.64 274.34 L324.38 275.72 L324.20 277.06 L324.12 278.37 L324.12 279.63 L324.22 280.83 L324.41 281.97 L324.68 283.03 L325.04 284.02 L325.49 284.92 L326.01 285.72 L326.62 286.43 L327.29 287.03 L328.04 287.53 L328.85 287.92" fill="#fff" stroke="#1a1a1a" stroke-width="2.4" stroke-linecap="round" stroke-linejoin="round" />
<path d="M346.50 254.50 C350.33 256.43 351.33 257.03 358.00 260.30 C364.67 263.57 361.43 261.37 366.50 264.30 C371.57 267.23 369.87 265.27 373.20 269.10 C376.53 272.93 375.23 271.03 376.50 275.80 C377.77 280.57 377.67 278.07 377.00 283.40 C376.33 288.73 377.37 286.80 374.50 291.80 C371.63 296.80 373.10 295.10 368.40 298.40 C363.70 301.70 365.70 301.00 360.40 301.70 C355.10 302.40 356.73 301.67 352.50 300.50 C348.27 299.33 354.60 302.70 347.70 298.20 C340.80 293.70 337.10 290.73 331.80 287.00" fill="none" stroke="#1a1a1a" stroke-width="2.3" stroke-linecap="round" stroke-linejoin="round" />
<path d="M360.50 265.20 C357.67 266.97 356.73 266.07 352.00 270.50 C347.27 274.93 348.87 272.67 346.30 278.50 C343.73 284.33 344.13 281.73 344.30 288.00 C344.47 294.27 345.97 294.20 346.80 297.30" fill="none" stroke="#1a1a1a" stroke-width="4.2" stroke-linecap="round" stroke-linejoin="round" />
<path d="M366.60 268.60 C363.90 270.07 363.17 269.03 358.50 273.00 C353.83 276.97 355.23 275.00 352.60 280.50 C349.97 286.00 350.67 283.17 350.60 289.50 C350.53 295.83 351.80 296.17 352.40 299.50" fill="none" stroke="#1a1a1a" stroke-width="1.4" stroke-linecap="round" stroke-linejoin="round" />
<path d="M371.57 278.39 L372.50 279.11 L373.20 280.17 L373.64 281.50 L373.80 283.06 L373.67 284.77 L373.25 286.56 L372.57 288.36 L371.66 290.07 L370.55 291.64 L369.30 292.98 L367.95 294.05 L366.57 294.79 L365.22 295.17 L363.96 295.18 L362.83 294.81 L361.90 294.09 L361.20 293.03 L360.76 291.70 L360.60 290.14 L360.73 288.43 L361.15 286.64 L361.83 284.84 L362.74 283.13 L363.85 281.56 L365.10 280.22 L366.45 279.15 L367.83 278.41 L369.18 278.03 L370.44 278.02 L371.57 278.39" fill="#1a1a1a" stroke="#1a1a1a" stroke-width="1" stroke-linecap="round" stroke-linejoin="round" />
<path d="M370.3 284.3 L376.7 287.4 L373.5 294.6 L367.5 291.5 Z" fill="#fff" stroke="#1a1a1a" stroke-width="0.01" stroke-linecap="round" stroke-linejoin="round" />
<path d="M370.8 284.6 L376.3 287.2" fill="none" stroke="#1a1a1a" stroke-width="1.5" stroke-linecap="round" stroke-linejoin="round" />
<path d="M367.8 291.6 L373 294.3" fill="none" stroke="#1a1a1a" stroke-width="1.5" stroke-linecap="round" stroke-linejoin="round" />
<path d="M376.97 286.92 L377.45 287.28 L377.83 287.80 L378.08 288.46 L378.19 289.21 L378.15 290.04 L377.97 290.89 L377.66 291.75 L377.23 292.56 L376.70 293.30 L376.08 293.92 L375.42 294.41 L374.73 294.74 L374.05 294.90 L373.41 294.88 L372.83 294.68 L372.35 294.32 L371.97 293.80 L371.72 293.14 L371.61 292.39 L371.65 291.56 L371.83 290.71 L372.14 289.85 L372.57 289.04 L373.10 288.30 L373.72 287.68 L374.38 287.19 L375.07 286.86 L375.75 286.70 L376.39 286.72 L376.97 286.92" fill="#fff" stroke="#1a1a1a" stroke-width="1.5" stroke-linecap="round" stroke-linejoin="round" />
</svg>
</body></html>
